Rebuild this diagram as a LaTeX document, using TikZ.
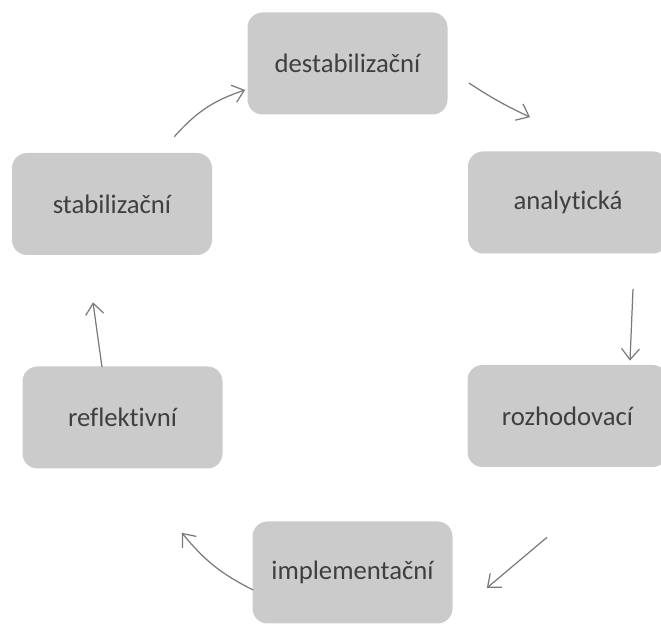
\documentclass[tikz,border=0pt]{standalone}
\usepackage{fontspec}
\setmainfont[Ligatures={NoCommon}]{Carlito}
\usetikzlibrary{arrows.meta}
\definecolor{boxgray}{HTML}{CBCBCB}
\definecolor{textgray}{HTML}{3F3F3F}
\definecolor{arrowgray}{HTML}{7A7A7A}
\begin{document}
\begin{tikzpicture}
		\tikzstyle{phase}=[rectangle,rounded corners=0.3cm,fill=boxgray,text=textgray,minimum width=4cm,minimum height=2.04cm,font=\fontsize{15.2}{18}\selectfont]
		\tikzstyle{edge}=[-{Straight Barb[length=2.2mm,width=3.6mm]},arrowgray,line width=0.7pt]
		
		\useasboundingbox (0, 0) rectangle (13.22, 12.48);
		
		\node [phase] (destab) at ( 6.95, 11.21) {destabilizační};
		\node [phase] (analyt) at (11.36,  8.43) {analytická};
		\node [phase] (rozhod) at (11.35,  4.16) {rozhodovací};
		\node [phase] (implem) at ( 7.05,  1.03) {implementační};
		\node [phase] (reflex) at ( 2.45,  4.13) {reflektivní};
		\node [phase] (stabil) at ( 2.24,  8.40) {stabilizační};
		
		\draw[edge] ([shift={(-0.76, 0.32)}]stabil.north east) to [bend left = 15] ([shift={(-0.04,-0.53)}]destab.west);
		\draw[edge] ([shift={( 0.42,-0.39)}]destab.east) to [bend right = 4] ([shift={(-0.76, 0.68)}]analyt.north);
		\draw[edge] ([shift={( 1.30,-0.70)}]analyt.south) -- ([shift={( 1.25, 0.08)}]rozhod.north);
		\draw[edge] ([shift={(-0.41,-1.40)}]rozhod.south) -- ([shift={( 0.68,-0.31)}]implem.east);
		\draw[edge] ([shift={( 0.02,-0.35)}]implem.west) to [bend left = 12] ([shift={(-0.82,-1.28)}]reflex.south east);
		\draw[edge] ([shift={(-0.41,-0.02)}]reflex.north) -- ([shift={(-0.38,-0.94)}]stabil.south);
	\end{tikzpicture}
\end{document}
